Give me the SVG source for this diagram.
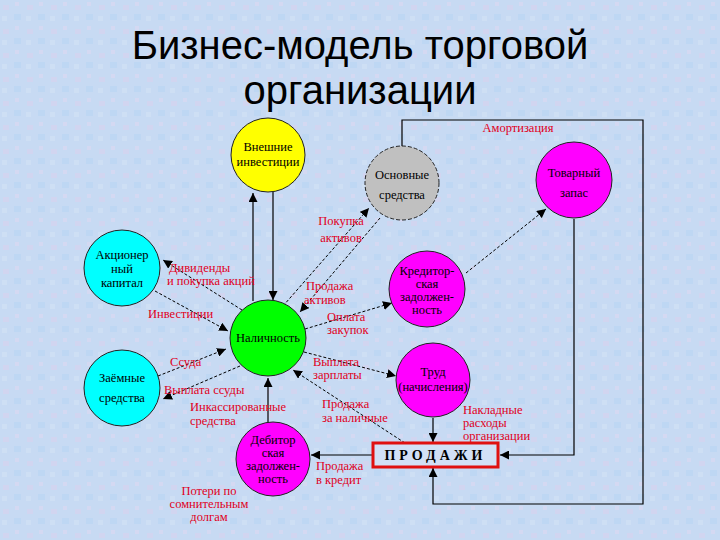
<svg xmlns="http://www.w3.org/2000/svg" width="720" height="540" viewBox="0 0 720 540">
<defs>
<marker id="ah" viewBox="0 0 10 10" refX="10" refY="5" markerWidth="9" markerHeight="9" markerUnits="userSpaceOnUse" orient="auto"><path d="M0,0 L10,5 L0,10 z" fill="#000"/></marker>
<pattern id="bg" width="24" height="24" patternUnits="userSpaceOnUse">
<rect width="24" height="24" fill="#c7daf3"/>
<rect x="3" y="5" width="6" height="5" fill="#d6d3f0" opacity="0.7"/>
<rect x="14" y="14" width="7" height="6" fill="#bcd6f2" opacity="0.8"/>
<rect x="15" y="2" width="4" height="4" fill="#dcd8f2" opacity="0.6"/>
<rect x="2" y="16" width="5" height="5" fill="#d2e2f6" opacity="0.7"/>
</pattern>
<style>
.c{stroke:#222;stroke-width:1}
.t{font-family:"Liberation Serif",serif;font-size:12.5px;fill:#000;text-anchor:middle}
.r{font-family:"Liberation Serif",serif;font-size:12.5px;fill:#e0001c}
.l{fill:none;stroke:#000;stroke-width:1.2}
.d{fill:none;stroke:#000;stroke-width:1;stroke-dasharray:3,2}
</style>
</defs>
<rect width="720" height="540" fill="url(#bg)"/>
<g id="title" font-family="Liberation Sans, Arial, sans-serif" font-size="40" text-anchor="middle" fill="#000">
<text x="360" y="59">Бизнес-модель торговой</text>
<text x="360" y="104">организации</text>
</g>
<g id="connectors" marker-end="url(#ah)">
<path class="l" d="M402,146 V120 H643 V504 H433 V468"/>
<path class="l" d="M574,219 V455 H500"/>
<path class="l" d="M433,418 V442"/>
<path class="l" d="M373,455 H311"/>
<path class="l" d="M268,422 V378"/>
<path class="l" d="M253,301 V193"/>
<path class="l" d="M273,192 V300"/>
<path class="d" d="M242,310 L163,260"/>
<path class="d" d="M155,291 L228,331"/>
<path class="d" d="M158,376 L226,349"/>
<path class="d" d="M240,366 L163,399"/>
<path class="d" d="M283,306 L369,208"/>
<path class="d" d="M380,218 L300,312"/>
<path class="d" d="M305,329 L392,303"/>
<path class="d" d="M466,273 L546,209"/>
<path class="d" d="M304,352 L396,376"/>
<path class="d" d="M405,443 L293,370"/>
</g>
<g id="labels">
<text class="r" x="518" y="132" text-anchor="middle">Амортизация</text>
<text class="r" x="341" y="225" text-anchor="middle">Покупка</text>
<text class="r" x="341" y="242" text-anchor="middle">активов</text>
<text class="r" x="306" y="290">Продажа</text>
<text class="r" x="304" y="304">активов</text>
<text class="r" x="327" y="321">Оплата</text>
<text class="r" x="327" y="334">закупок</text>
<text class="r" x="169" y="272">Дивиденды</text>
<text class="r" x="167" y="285">и покупка акций</text>
<text class="r" x="148" y="318">Инвестиции</text>
<text class="r" x="170" y="366">Ссуда</text>
<text class="r" x="164" y="394">Выплата ссуды</text>
<text class="r" x="313" y="366">Выплата</text>
<text class="r" x="313" y="379">зарплаты</text>
<text class="r" x="190" y="411">Инкассированные</text>
<text class="r" x="190" y="425">средства</text>
<text class="r" x="322" y="408">Продажа</text>
<text class="r" x="322" y="422">за наличные</text>
<text class="r" x="463" y="414">Накладные</text>
<text class="r" x="463" y="427">расходы</text>
<text class="r" x="463" y="440">организации</text>
<text class="r" x="316" y="470">Продажа</text>
<text class="r" x="316" y="484">в кредит</text>
<text class="r" x="209" y="495" text-anchor="middle">Потери по</text>
<text class="r" x="209" y="508" text-anchor="middle">сомнительным</text>
<text class="r" x="209" y="521" text-anchor="middle">долгам</text>
</g>
<g id="n-vneshnie"><circle class="c" cx="268" cy="155" r="37" fill="#ffff00"/><text class="t" x="268" y="151">Внешние</text><text class="t" x="268" y="166">инвестиции</text></g>
<g id="n-osnovnye"><circle class="c" cx="402" cy="183" r="37" fill="#c0c0c0" stroke-dasharray="4,2"/><text class="t" x="402" y="179">Основные</text><text class="t" x="402" y="199">средства</text></g>
<g id="n-tovarny"><circle class="c" cx="574" cy="180" r="38" fill="#ff00ff"/><text class="t" x="574" y="177">Товарный</text><text class="t" x="574" y="197">запас</text></g>
<g id="n-akcioner"><circle class="c" cx="122" cy="268" r="38" fill="#00ffff"/><text class="t" x="122" y="259">Акционер</text><text class="t" x="122" y="273">ный</text><text class="t" x="122" y="287">капитал</text></g>
<g id="n-kreditor"><circle class="c" cx="427" cy="289" r="38" fill="#ff00ff"/><text class="t" x="427" y="275">Кредитор-</text><text class="t" x="427" y="288">ская</text><text class="t" x="427" y="301">задолжен-</text><text class="t" x="427" y="314">ность</text></g>
<g id="n-nalichnost"><circle class="c" cx="268" cy="338" r="38" fill="#00ff00"/><text class="t" x="268" y="342">Наличность</text></g>
<g id="n-zaemnye"><circle class="c" cx="122" cy="388" r="38" fill="#00ffff"/><text class="t" x="122" y="382">Заёмные</text><text class="t" x="122" y="402">средства</text></g>
<g id="n-trud"><circle class="c" cx="433" cy="380" r="37" fill="#ff00ff"/><text class="t" x="433" y="376">Труд</text><text class="t" x="433" y="391">(начисления)</text></g>
<g id="n-debitor"><circle class="c" cx="273" cy="459" r="37" fill="#ff00ff"/><text class="t" x="273" y="444">Дебитор</text><text class="t" x="273" y="457">ская</text><text class="t" x="273" y="470">задолжен-</text><text class="t" x="273" y="483">ность</text></g>
<g id="n-prodazhi"><rect x="373" y="443" width="125" height="24" fill="#d2e0f6" stroke="#e01010" stroke-width="3"/><text x="435.5" y="460" font-family="Liberation Serif, serif" font-size="14" font-weight="bold" letter-spacing="4" text-anchor="middle" fill="#000">ПРОДАЖИ</text></g>
</svg>
